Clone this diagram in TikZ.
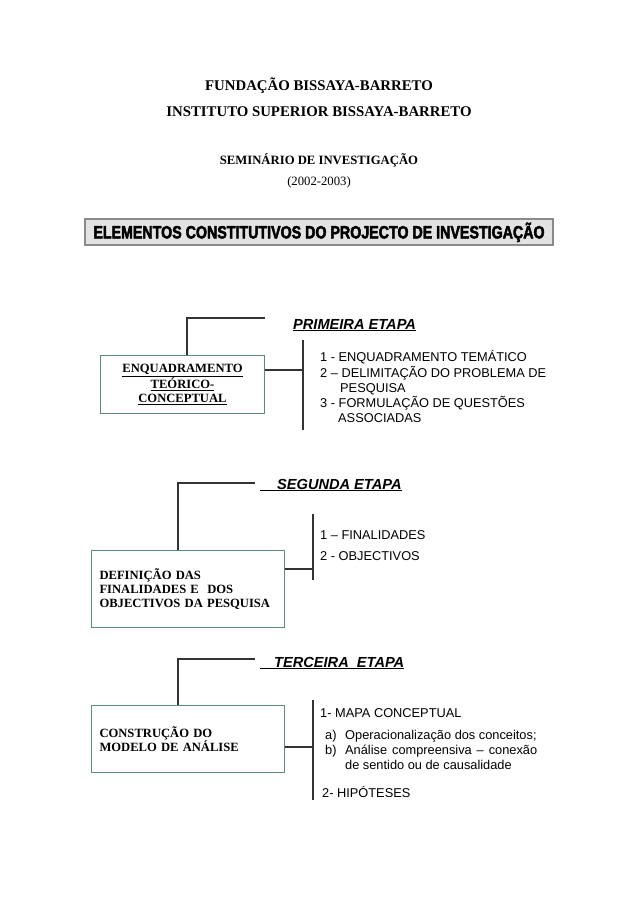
\documentclass[tikz,border=0pt]{standalone}
\usepackage{fontspec}
\setmainfont{Liberation Serif}
\setsansfont{Liberation Sans}
\newfontfamily\titlefont[FakeStretch=0.8, BoldFeatures={FakeBold=2.5}]{Liberation Sans}
\definecolor{boxgreen}{HTML}{5B8C7A}
\definecolor{linegray}{HTML}{333333}
\definecolor{titlefill}{HTML}{E3E3E3}
\definecolor{titleborder}{HTML}{8A8A8A}
\begin{document}
\begin{tikzpicture}[x=1pt,y=-1pt,
  etapabox/.style={draw=boxgreen, line width=1pt, rectangle, anchor=north west, inner xsep=8pt, font=\fontsize{12.6}{14.3}\selectfont\bfseries},
  conn/.style={draw=linegray, line width=1.3pt},
  item/.style={anchor=base west, inner sep=0pt, font=\sffamily\fontsize{12.8}{15}\selectfont},
  etapa/.style={anchor=base west, inner sep=0pt, font=\sffamily\bfseries\itshape\fontsize{14.6}{16}\selectfont},
  head/.style={anchor=base, inner sep=0pt}]
\useasboundingbox (0,0) rectangle (638,903);

% cabecalho
\node[head, font=\bfseries\fontsize{14.8}{16}\selectfont] (fund) at (319,90) {FUNDAÇÃO BISSAYA-BARRETO};
\node[head, font=\bfseries\fontsize{14.8}{16}\selectfont] (inst) at (319,116) {INSTITUTO SUPERIOR BISSAYA-BARRETO};
\node[head, font=\bfseries\fontsize{12.7}{14}\selectfont] (semi) at (319,164) {SEMINÁRIO DE INVESTIGAÇÃO};
\node[head, font=\fontsize{12.7}{14}\selectfont] (ano) at (319,185) {(2002-2003)};

\node[draw=titleborder, fill=titlefill, line width=1.2pt, minimum width=468pt, minimum height=26pt, inner sep=0pt, text height=12.8pt, text depth=0pt] (title) at (319,232)
  {\titlefont\fontsize{17.8}{18}\selectfont\bfseries ELEMENTOS CONSTITUTIVOS DO PROJECTO DE INVESTIGAÇÃO};

% primeira etapa
\node[etapabox, align=center, text width=148pt, minimum width=164pt, minimum height=58pt] (enq) at (100,355)
  {\underline{ENQUADRAMENTO}\\ \underline{TEÓRICO-}\\ \underline{CONCEPTUAL}};
\coordinate (enqtop) at (187,318);
\coordinate (enqend) at (265,318);
\draw[conn] (enq.north -| enqtop) -- (enqtop) -- (enqend);
\node[etapa] (et1) at (293,329) {\underline{PRIMEIRA ETAPA}};
\coordinate (bar1a) at (303,340);
\coordinate (bar1b) at (303,430);
\coordinate (j1) at (303,370);
\draw[conn] (bar1a) -- (bar1b);
\draw[conn] (j1 -| enq.east) -- (j1);
\node[item] (p1a) at (320,361.5) {1 - ENQUADRAMENTO TEMÁTICO};
\node[item] (p1b) at (320,377) {2 – DELIMITAÇÃO DO PROBLEMA DE};
\node[item] (p1c) at (340,392.5) {PESQUISA};
\node[item] (p1d) at (320,407.5) {3 - FORMULAÇÃO DE QUESTÕES};
\node[item] (p1e) at (338,422.5) {ASSOCIADAS};

% segunda etapa
\node[etapabox, align=left, text width=177pt, minimum width=193pt, minimum height=77pt] (def) at (91,550)
  {DEFINIÇÃO DAS\\ FINALIDADES E\ \ DOS\\ OBJECTIVOS DA PESQUISA};
\coordinate (deftop) at (178,483);
\coordinate (defend) at (255,483);
\draw[conn] (def.north -| deftop) -- (deftop) -- (defend);
\node[etapa] (et2) at (260,489) {\underline{\hspace*{17pt}SEGUNDA ETAPA}};
\coordinate (bar2a) at (313,514);
\coordinate (bar2b) at (313,580);
\coordinate (j2) at (313,569);
\draw[conn] (bar2a) -- (bar2b);
\draw[conn] (j2 -| def.east) -- (j2);
\node[item] (p2a) at (320,539) {1 – FINALIDADES};
\node[item] (p2b) at (320,560.5) {2 - OBJECTIVOS};

% terceira etapa
\node[etapabox, align=left, text width=177pt, minimum width=193pt, minimum height=67pt] (mod) at (91,705)
  {CONSTRUÇÃO DO\\ MODELO DE ANÁLISE};
\coordinate (modtop) at (178,659);
\coordinate (modend) at (255,659);
\draw[conn] (mod.north -| modtop) -- (modtop) -- (modend);
\node[etapa] (et3) at (260,667) {\underline{\hspace*{14pt}TERCEIRA\ \ ETAPA}};
\coordinate (bar3a) at (313,700);
\coordinate (bar3b) at (313,800);
\coordinate (j3) at (313,747);
\draw[conn] (bar3a) -- (bar3b);
\draw[conn] (j3 -| mod.east) -- (j3);
\node[item] (p3a) at (320,717) {1- MAPA CONCEPTUAL};
\node[item] (p3b) at (325,739) {\makebox[20pt][l]{a)}Operacionalização dos conceitos;};
\node[item] (p3c) at (325,754) {\makebox[20pt][l]{b)}\makebox[192pt][s]{Análise compreensiva – conexão}};
\node[item] (p3d) at (345,769) {de sentido ou de causalidade};
\node[item] (p3e) at (322,797) {2- HIPÓTESES};
\end{tikzpicture}
\end{document}
